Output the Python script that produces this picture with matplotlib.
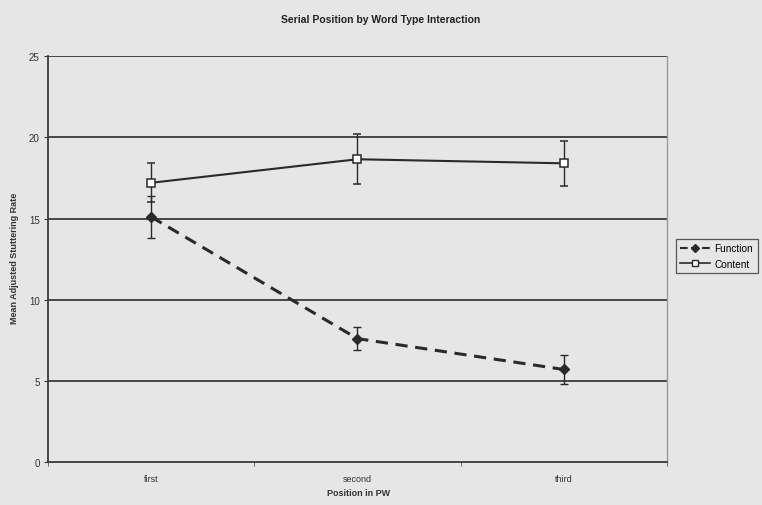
import matplotlib
matplotlib.use("Agg")
import matplotlib.pyplot as plt
from matplotlib.lines import Line2D

positions = ["first", "second", "third"]
function_mean = [15.1, 7.6, 5.7]
function_err = [1.3, 0.7, 0.9]
content_mean = [17.2, 18.65, 18.4]
content_err = [1.2, 1.55, 1.4]
y_ticks = [0, 5, 10, 15, 20, 25]

bg = "#e6e6e6"
ink = "#2a2a2a"
plt.rcParams["font.family"] = ["Liberation Sans", "DejaVu Sans"]

fig = plt.figure(figsize=(7.62, 5.06), dpi=100, facecolor=bg)
ax = fig.add_axes([0.063, 0.085, 0.812, 0.802], facecolor=bg)

x = list(range(len(positions)))

ax.errorbar(x, content_mean, yerr=content_err, color=ink, lw=1.5,
            marker="s", ms=6, mfc="white", mec=ink, mew=1.1,
            ecolor=ink, elinewidth=1.0, capsize=3, capthick=1.0,
            label="Content", zorder=3)
ax.errorbar(x, function_mean, yerr=function_err, color=ink, lw=2.2,
            ls=(0, (4, 2.5)), marker="D", ms=5, mfc=ink, mec=ink,
            ecolor=ink, elinewidth=1.0, capsize=3, capthick=1.0,
            label="Function", zorder=3)

ax.set_xlim(-0.5, 2.5)
ax.set_ylim(0, 25)
ax.set_yticks(y_ticks)
ax.set_xticks(x)
ax.set_xticklabels(positions)
ax.set_xticks([-0.5, 0.5, 1.5, 2.5], minor=True)
ax.tick_params(axis="x", which="major", length=0, labelsize=6.5, pad=9,
               colors="#333333")
ax.tick_params(axis="x", which="minor", length=3, direction="out",
               color="#555555")
ax.tick_params(axis="y", length=3, direction="out", labelsize=7,
               colors="#333333", pad=3)

for yv in y_ticks[1:]:
    ax.axhline(yv, color="#3a3a3a", lw=1.3, zorder=1)

for side in ["left", "bottom"]:
    ax.spines[side].set_color("#3a3a3a")
    ax.spines[side].set_linewidth(1.3)
ax.spines["top"].set_visible(False)
ax.spines["right"].set_color("#9a9a9a")
ax.spines["right"].set_linewidth(1.0)

fig.text(0.5, 0.96, "Serial Position by Word Type Interaction",
         ha="center", va="center", fontsize=7.5, fontweight="bold",
         color="#222222")
fig.text(0.47, 0.025, "Position in PW", ha="center", va="center",
         fontsize=6.5, fontweight="bold", color="#333333")
fig.text(0.019, 0.49, "Mean Adjusted Stuttering Rate", ha="center",
         va="center", rotation=90, fontsize=6.5, fontweight="bold",
         color="#333333")

handles = [
    Line2D([], [], color=ink, lw=1.5, ls="--", marker="D", ms=4,
           mfc=ink, mec=ink),
    Line2D([], [], color=ink, lw=1.2, marker="s", ms=4.5, mfc="white",
           mec=ink),
]
leg = fig.legend(handles, ["Function", "Content"], loc="upper left",
                 bbox_to_anchor=(0.887, 0.526), fontsize=7.2,
                 frameon=True, fancybox=False, handlelength=3.0,
                 handletextpad=0.4, borderpad=0.45, labelspacing=0.55,
                 borderaxespad=0)
leg.get_frame().set_facecolor(bg)
leg.get_frame().set_edgecolor("#333333")
leg.get_frame().set_linewidth(0.9)

fig.savefig("out.png", dpi=100, facecolor=bg)
